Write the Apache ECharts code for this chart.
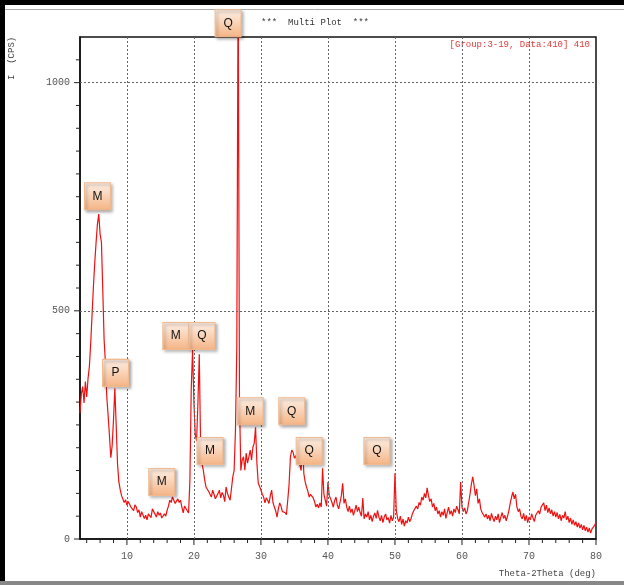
<!DOCTYPE html>
<html>
<head>
<meta charset="utf-8">
<script src="https://cdn.jsdelivr.net/npm/echarts/dist/echarts.min.js"></script>
<style>html,body{margin:0;padding:0;background:#fff;}#chart{width:624px;height:585px;}</style>
</head>
<body>
<div id="chart"></div>
<script>
// ---- data ----
const scanStart = 3.0;   // 2theta of first sample (deg)
const scanStep = 0.2;    // sampling step (deg)
const intensity = [
  276,318,334,298,345,   311,352,378,430,492,   552,605,650,690,712,   668,650,545,436,385,
  311,270,225,178,205,   262,330,250,165,125,   108,95,92,80,86,       74,82,86,70,66,
  62,75,70,58,64,        48,60,56,45,52,        42,55,58,47,66,        68,54,48,60,52,
  57,46,42,55,50,        63,72,85,80,92,        90,78,74,88,80,        85,70,57,72,68,
  62,57,129,330,415,     300,228,215,300,405,   200,165,151,130,114,   118,104,101,92,107,
  98,88,85,100,107,      90,102,96,82,114,      100,92,85,110,136,     150,239,420,1250,300,
  150,173,180,151,188,   166,180,195,173,201,   210,245,166,122,115,   107,98,92,79,90,
  85,78,95,107,80,       70,62,48,66,79,        72,60,63,58,53,        85,120,180,195,190,
  177,183,166,170,162,   150,215,144,125,114,   105,92,98,101,90,      82,70,76,68,79,
  70,155,98,85,72,       125,95,88,80,70,       84,92,74,66,80,        95,122,78,88,70,
  60,72,58,66,52,        62,74,60,70,58,        50,90,44,55,48,        60,42,52,38,50,
  57,45,63,48,40,        52,36,48,55,42,        47,35,52,40,48,        144,62,45,38,50,
  32,44,28,40,35,        48,38,45,55,62,        58,72,66,80,74,        92,85,100,90,112,
  95,82,88,70,78,        62,70,55,62,48,        60,52,66,45,58,        70,54,62,50,66,
  58,72,64,55,125,       70,60,68,55,62,        80,98,120,136,118,     95,110,78,88,66,
  58,62,48,55,44,        52,40,56,46,38,        50,42,55,36,48,        58,45,52,40,50,
  62,78,92,103,88,       98,70,60,66,50,        44,56,40,52,36,        48,42,55,46,38,
  52,48,62,55,70,        66,79,62,74,58,        68,55,64,50,60,        48,58,44,54,40,
  52,46,60,42,50,        36,46,32,42,30,        38,26,35,24,32,        20,30,18,26,15,
  24,13,22,18,30,        37
];
const twoTheta = intensity.map((_, i) => +(scanStart + i * scanStep).toFixed(1));

// phase labels (M, Q, P) and where their boxes sit (deg, cps)
const peakLabels = ['Q', 'M', 'M', 'Q', 'P', 'M', 'Q', 'M', 'Q', 'Q', 'M'];
const peakLabelX = [25.1, 5.6, 17.3, 21.2, 8.3, 28.4, 34.6, 22.4, 37.2, 47.3, 15.2];
const peakLabelY = [1130, 751, 445, 445, 364, 280, 280, 193, 193, 193, 125];

// axes
const xMin = 3, xMax = 80, yMin = 0, yMax = 1100;
const xTickLabels = [10, 20, 30, 40, 50, 60, 70, 80];
const xMinorTicks = [4,6,8,12,14,16,18,22,24,26,28,32,34,36,38,42,44,46,48,52,54,56,58,62,64,66,68,72,74,76,78];
const yTickLabels = [0, 500, 1000];
const yMinorTicks = [50,100,150,200,250,300,350,400,450,550,600,650,700,750,800,850,900,950,1050];
const xGridLines = [10, 20, 30, 40, 50, 60, 70];
const yGridLines = [500, 1000];

const mono = '"Liberation Mono", "DejaVu Sans Mono", monospace';

const chart = echarts.init(document.getElementById('chart'), null, {renderer: 'canvas'});
const lineData = twoTheta.map((x, i) => [x, intensity[i]]);
const boxData = peakLabels.map((t, i) => ({value: [peakLabelX[i], peakLabelY[i]], name: t}));

// tick marks: [value, axis (0 = x, 1 = y), major (1) / minor (0)]
const tickData = []
  .concat(xTickLabels.map(v => [v, 0, 1]))
  .concat(xMinorTicks.map(v => [v, 0, 0]))
  .concat(yTickLabels.map(v => [v, 1, 1]))
  .concat(yMinorTicks.map(v => [v, 1, 0]));

chart.setOption({
  animation: false,
  backgroundColor: '#fff',
  title: {
    text: '***  Multi Plot  ***',
    left: 310, top: 13, textAlign: 'center',
    textStyle: {fontFamily: mono, fontSize: 9, fontWeight: 'normal', color: '#333'}
  },
  grid: {left: 80, right: 28, top: 37, bottom: 46, show: true, borderColor: '#111', borderWidth: 1.5, backgroundColor: 'transparent'},
  xAxis: {
    type: 'value', min: xMin, max: xMax,
    axisLine: {show: true, lineStyle: {color: '#111', width: 1.5}},
    axisTick: {show: false},
    axisLabel: {customValues: xTickLabels, margin: 12, fontFamily: mono, fontSize: 10, color: '#555', formatter: v => String(v)},
    splitLine: {show: false}
  },
  yAxis: {
    type: 'value', min: yMin, max: yMax,
    axisLine: {show: true, lineStyle: {color: '#111', width: 1.5}},
    axisTick: {show: false},
    axisLabel: {customValues: yTickLabels, margin: 10, fontFamily: mono, fontSize: 10, color: '#555', formatter: v => String(v)},
    splitLine: {show: false}
  },
  series: [{
    type: 'line',
    data: lineData,
    showSymbol: false,
    symbol: 'none',
    lineStyle: {color: '#ee1111', width: 1.2},
    clip: true,
    z: 3,
    markLine: {
      silent: true,
      symbol: 'none',
      label: {show: false},
      lineStyle: {color: '#666', width: 1, type: [2, 2]},
      data: xGridLines.map(v => ({xAxis: v})).concat(yGridLines.map(v => ({yAxis: v})))
    }
  }, {
    type: 'custom',
    data: tickData,
    clip: false,
    z: 4,
    renderItem: function (params, api) {
      const v = api.value(0), axis = api.value(1), major = api.value(2);
      const len = major ? 6 : 4;
      let s;
      if (axis === 0) {
        const p = api.coord([v, yMin]);
        s = {x1: p[0], y1: p[1], x2: p[0], y2: p[1] + len};
      } else {
        const p = api.coord([xMin, v]);
        s = {x1: p[0] - len, y1: p[1], x2: p[0], y2: p[1]};
      }
      return {type: 'line', shape: s, style: {stroke: '#222', lineWidth: 1}};
    }
  }, {
    type: 'scatter',
    data: boxData,
    clip: false,
    symbol: 'rect',
    symbolSize: [26, 27],
    z: 5,
    itemStyle: {
      color: new echarts.graphic.LinearGradient(0, 0, 0, 1, [
        {offset: 0, color: '#fdf0e6'},
        {offset: 1, color: '#f5b485'}
      ]),
      borderColor: '#f2b98e', borderWidth: 1,
      shadowColor: 'rgba(0,0,0,0.35)', shadowBlur: 3, shadowOffsetX: 2, shadowOffsetY: 2,
      opacity: 1
    },
    label: {
      show: true, position: 'inside', formatter: p => p.name,
      fontFamily: '"Liberation Sans", Arial, sans-serif', fontSize: 12, color: '#111'
    }
  }],
  graphic: [
    {type: 'rect', left: 0, top: 0, shape: {width: 624, height: 5}, style: {fill: '#000'}, silent: true},
    {type: 'rect', left: 0, top: 0, shape: {width: 5, height: 585}, style: {fill: '#000'}, silent: true},
    {type: 'rect', left: 0, top: 581, shape: {width: 624, height: 4}, style: {fill: '#888'}, silent: true},
    {type: 'line', shape: {x1: 5, y1: 9.5, x2: 624, y2: 9.5}, style: {stroke: '#aaa', lineWidth: 1}, silent: true, z: -1},
    {type: 'text', x: 590, y: 40, style: {text: '[Group:3-19, Data:410] 410', fill: '#e03a3a', font: '9px ' + mono, textAlign: 'right'}, silent: true},
    {type: 'text', x: 596, y: 569, style: {text: 'Theta-2Theta (deg)', fill: '#444', font: '9px ' + mono, textAlign: 'right'}, silent: true},
    {type: 'text', x: 7, y: 80, rotation: Math.PI / 2, style: {text: 'I  (CPS)', fill: '#444', font: '9px ' + mono, textAlign: 'left'}, silent: true}
  ]
});
</script>
</body>
</html>
